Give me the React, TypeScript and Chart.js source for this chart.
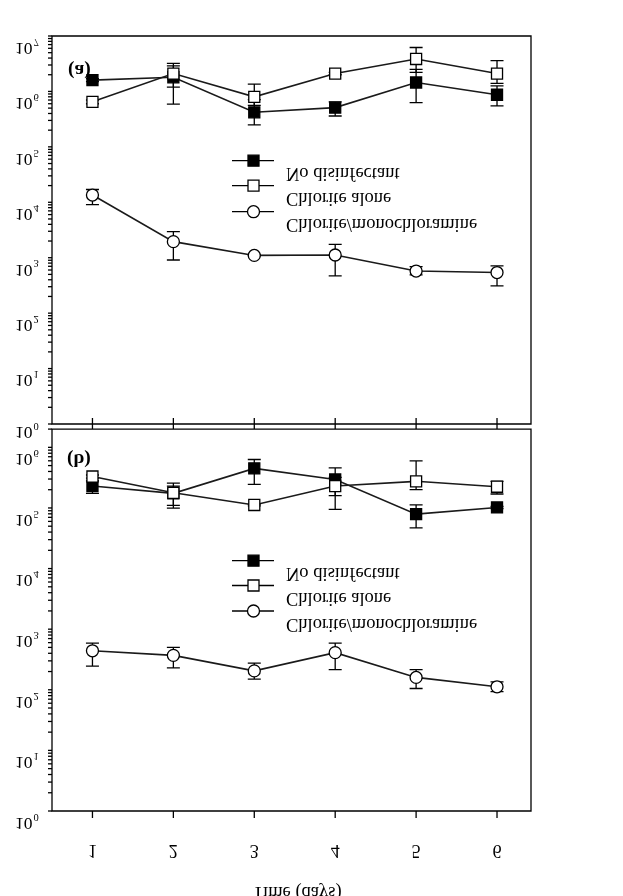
import React, { useEffect, useRef } from "react";
import { Chart, registerables } from "chart.js";

Chart.register(...registerables);

// ---------- data ----------
const days = [1, 2, 3, 4, 5, 6];
const dayLabels = ["1", "2", "3", "4", "5", "6"];
const seriesNames = ["No disinfectant", "Chlorite alone", "Chlorite/monochloramine"];
const xTitle = "Time (days)";

// Panel (a)
const aNoDis = [1.6e6, 1.8e6, 4.2e5, 5.1e5, 1.45e6, 8.7e5];
const aNoDisLow = [1.5e6, 5.9e5, 2.5e5, 3.6e5, 6.3e5, 5.5e5];
const aNoDisHigh = [1.7e6, 2.9e6, 7.1e5, 6.5e5, 2.5e6, 1.26e6];
const aChlorite = [6.5e5, 2.1e6, 8.0e5, 2.1e6, 3.85e6, 2.1e6];
const aChloriteLow = [6.0e5, 1.2e6, 5.6e5, 2.0e6, 2.2e6, 1.4e6];
const aChloriteHigh = [7.0e5, 3.2e6, 1.35e6, 2.2e6, 6.2e6, 3.6e6];
const aMono = [13500, 1950, 1100, 1120, 575, 540];
const aMonoLow = [9100, 910, 1080, 470, 490, 310];
const aMonoHigh = [17000, 2950, 1130, 1740, 690, 710];

// Panel (b)
const bNoDis = [2.3e5, 1.74e5, 4.5e5, 2.95e5, 7.9e4, 1.02e5];
const bNoDisLow = [1.74e5, 1.1e5, 2.45e5, 1.6e5, 4.7e4, 9.8e4];
const bNoDisHigh = [2.8e5, 2.3e5, 6.3e5, 4.6e5, 1.12e5, 1.06e5];
const bChlorite = [3.3e5, 1.78e5, 1.12e5, 2.3e5, 2.75e5, 2.24e5];
const bChloriteLow = [3.1e5, 9.9e4, 1.08e5, 9.5e4, 2.0e5, 1.7e5];
const bChloriteHigh = [3.5e5, 2.57e5, 1.16e5, 3.2e5, 6.0e5, 2.75e5];
const bMono = [440, 370, 205, 410, 160, 112];
const bMonoLow = [245, 230, 150, 215, 105, 93];
const bMonoHigh = [590, 500, 275, 590, 215, 135];

// ---------- helpers ----------
const FONT = "'Liberation Serif', 'Times New Roman', serif";

function flipText(ctx: CanvasRenderingContext2D, text: string, x: number, cy: number, font: string, align: CanvasTextAlign = "left") {
  ctx.save();
  ctx.font = font;
  ctx.fillStyle = "#000";
  ctx.textAlign = align;
  ctx.textBaseline = "middle";
  ctx.translate(x, cy);
  ctx.scale(1, -1);
  ctx.fillText(text, 0, 0);
  ctx.restore();
}

function drawMarker(ctx: CanvasRenderingContext2D, kind: number, x: number, y: number) {
  ctx.save();
  ctx.lineWidth = 1.3;
  ctx.strokeStyle = "#000";
  ctx.beginPath();
  if (kind === 2) {
    ctx.arc(x, y, 6, 0, Math.PI * 2);
    ctx.fillStyle = "#fff";
  } else {
    ctx.rect(x - 5.5, y - 5.5, 11, 11);
    ctx.fillStyle = kind === 0 ? "#000" : "#fff";
  }
  ctx.fill();
  ctx.stroke();
  ctx.restore();
}

interface PanelCfg {
  top: number;
  height: number;
  yMax: number;
  padding: { left: number; top: number; right: number; bottom: number };
  values: number[][];
  lows: number[][];
  highs: number[][];
  legendY: number[];
  tag: string;
  tagX: number;
  tagY: number;
  bottomPanel: boolean;
}

function makePlugin(cfg: PanelCfg) {
  const off = cfg.top;
  return {
    id: "panelDecor",
    beforeDatasetsDraw(chart: any) {
      const { ctx } = chart;
      const xs = chart.scales.x;
      const ys = chart.scales.y;
      ctx.save();
      ctx.strokeStyle = "#000";
      ctx.lineWidth = 1.3;
      cfg.values.forEach((_, s) => {
        days.forEach((d, i) => {
          const px = xs.getPixelForValue(d);
          const y1 = ys.getPixelForValue(cfg.lows[s][i]);
          const y2 = ys.getPixelForValue(cfg.highs[s][i]);
          ctx.beginPath();
          ctx.moveTo(px, y1);
          ctx.lineTo(px, y2);
          ctx.moveTo(px - 6.5, y1);
          ctx.lineTo(px + 6.5, y1);
          ctx.moveTo(px - 6.5, y2);
          ctx.lineTo(px + 6.5, y2);
          ctx.stroke();
        });
      });
      ctx.restore();
    },
    afterDraw(chart: any) {
      const { ctx, chartArea } = chart;
      const xs = chart.scales.x;
      const ys = chart.scales.y;
      const { left, right, top, bottom } = chartArea;
      ctx.save();
      ctx.strokeStyle = "#000";
      ctx.lineWidth = 1.3;
      // frame
      ctx.beginPath();
      ctx.rect(left, top, right - left, bottom - top);
      ctx.stroke();
      // y ticks (log, minor 2..9)
      const maxDec = Math.floor(Math.log10(cfg.yMax) + 1e-9);
      for (let n = 0; n <= maxDec; n++) {
        for (let m = 1; m <= 9; m++) {
          const v = m * Math.pow(10, n);
          if (v > cfg.yMax * 1.0001) break;
          const py = ys.getPixelForValue(v);
          ctx.beginPath();
          ctx.moveTo(left - 4, py);
          ctx.lineTo(left, py);
          ctx.stroke();
        }
        const py = ys.getPixelForValue(Math.pow(10, n));
        const dy = !cfg.bottomPanel && n === 0 ? 8 : 11.5;
        flipText(ctx, "10", 15, py + dy, `17.5px ${FONT}`);
        ctx.font = `17.5px ${FONT}`;
        const w = ctx.measureText("10").width;
        flipText(ctx, String(n), 15 + w + 1, py + dy - 6, `10.5px ${FONT}`);
      }
      // x ticks
      days.forEach((d) => {
        const px = xs.getPixelForValue(d);
        ctx.beginPath();
        if (cfg.bottomPanel) {
          ctx.moveTo(px, bottom);
          ctx.lineTo(px, bottom + 7);
        } else {
          ctx.moveTo(px, bottom - 6);
          ctx.lineTo(px, bottom + 5);
        }
        ctx.stroke();
      });
      ctx.restore();
      // panel tag
      flipText(ctx, cfg.tag, cfg.tagX, cfg.tagY - off, `bold 19.5px ${FONT}`);
      // legend
      cfg.legendY.forEach((ly, i) => {
        const y = ly - off;
        ctx.save();
        ctx.strokeStyle = "#000";
        ctx.lineWidth = 1.3;
        ctx.beginPath();
        ctx.moveTo(232, y);
        ctx.lineTo(274, y);
        ctx.stroke();
        ctx.restore();
        drawMarker(ctx, i, 253.5, y);
        flipText(ctx, seriesNames[i], 286, y + 12.5, `18.5px ${FONT}`);
      });
      if (cfg.bottomPanel) {
        days.forEach((d, i) => {
          const px = xs.getPixelForValue(d);
          flipText(ctx, dayLabels[i], px, 850 - off, `18px ${FONT}`, "center");
        });
        flipText(ctx, xTitle, 297, 892 - off, `18.5px ${FONT}`, "center");
      }
    },
  };
}

function Panel({ cfg }: { cfg: PanelCfg }) {
  const ref = useRef<HTMLCanvasElement | null>(null);
  useEffect(() => {
    if (!ref.current) return;
    const styles = [
      { pointStyle: "rect", radius: 7.8, bg: "#000", order: 1 },
      { pointStyle: "rect", radius: 7.8, bg: "#fff", order: 0 },
      { pointStyle: "circle", radius: 6, bg: "#fff", order: 2 },
    ];
    const chart = new Chart(ref.current, {
      type: "line",
      data: {
        datasets: cfg.values.map((vals, s) => ({
          label: seriesNames[s],
          data: vals.map((v, i) => ({ x: days[i], y: v })),
          borderColor: "#1a1a1a",
          borderWidth: 1.6,
          pointStyle: styles[s].pointStyle as any,
          pointRadius: styles[s].radius,
          pointBackgroundColor: styles[s].bg,
          pointBorderColor: "#000",
          pointBorderWidth: 1.3,
          order: styles[s].order,
          tension: 0,
        })),
      },
      options: {
        responsive: false,
        animation: false,
        devicePixelRatio: 1,
        layout: { padding: cfg.padding },
        scales: {
          x: { type: "linear", min: 0.5, max: 6.42, display: false },
          y: { type: "logarithmic", min: 1, max: cfg.yMax, display: false },
        },
        plugins: { legend: { display: false }, tooltip: { enabled: false } },
      },
      plugins: [makePlugin(cfg)],
    });
    return () => chart.destroy();
  }, [cfg]);
  return (
    <canvas
      ref={ref}
      width={623}
      height={cfg.height}
      style={{ position: "absolute", left: 0, top: cfg.top, width: 623, height: cfg.height }}
    />
  );
}

const panelA: PanelCfg = {
  top: 0,
  height: 445,
  yMax: 1e7,
  padding: { left: 52, top: 36, right: 92, bottom: 21 },
  values: [aNoDis, aChlorite, aMono],
  lows: [aNoDisLow, aChloriteLow, aMonoLow],
  highs: [aNoDisHigh, aChloriteHigh, aMonoHigh],
  legendY: [160.7, 185.7, 211.7],
  tag: "(a)",
  tagX: 68,
  tagY: 70,
  bottomPanel: false,
};

const panelB: PanelCfg = {
  top: 420,
  height: 476,
  yMax: 2e6,
  padding: { left: 52, top: 4, right: 92, bottom: 85 },
  values: [bNoDis, bChlorite, bMono],
  lows: [bNoDisLow, bChloriteLow, bMonoLow],
  highs: [bNoDisHigh, bChloriteHigh, bMonoHigh],
  legendY: [560.7, 585.5, 611],
  tag: "(b)",
  tagX: 67,
  tagY: 459,
  bottomPanel: true,
};

export default function App() {
  return (
    <div style={{ position: "absolute", left: 0, top: 0, width: 623, height: 896, background: "#fff", overflow: "hidden" }}>
      <Panel cfg={panelA} />
      <Panel cfg={panelB} />
    </div>
  );
}
